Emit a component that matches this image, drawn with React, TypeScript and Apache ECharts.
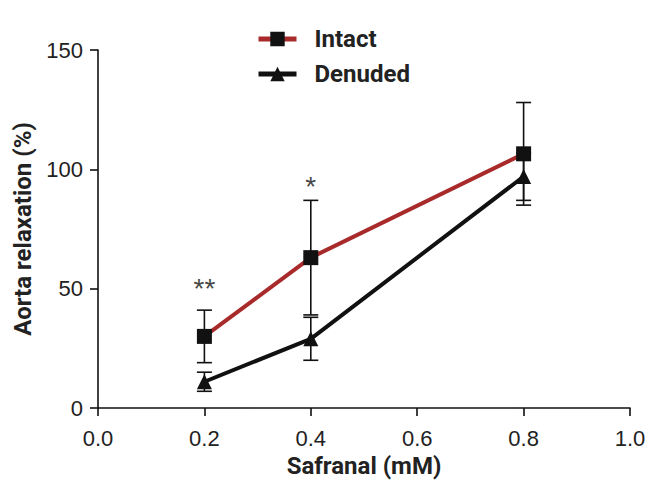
import React, { useEffect, useRef } from "react";
import * as echarts from "echarts";

const doses = [0.2, 0.4, 0.8];
const intactMean = [30, 63, 106.5];
const intactErr = [11, 24, 21.5];
const denudedMean = [11, 29, 97];
const denudedErr = [4, 9, 10];
const xTicks = [0, 0.2, 0.4, 0.6, 0.8, 1.0];
const significance: [number, number, string][] = [
  [0.2, 50, "**"],
  [0.4, 93, "*"],
];

const RED = "#a82a2a";
const BLACK = "#111111";
const TITLE_FONT = "Roboto, 'Liberation Sans', sans-serif";
const TICK_FONT = "'Liberation Sans', Arial, sans-serif";

function errData(mean: number[], err: number[]) {
  return doses.map((d, i) => [d, mean[i] - err[i], mean[i] + err[i]]);
}

function errSeries(name: string, mean: number[], err: number[]) {
  return {
    type: "custom",
    name: name + "-err",
    z: 1,
    silent: true,
    data: errData(mean, err),
    encode: { x: 0, y: [1, 2] },
    renderItem: (params: any, api: any) => {
      const x = api.value(0);
      const lo = api.coord([x, api.value(1)]);
      const hi = api.coord([x, api.value(2)]);
      const hw = 7.5;
      const style = { stroke: BLACK, lineWidth: 1.6 };
      return {
        type: "group",
        children: [
          { type: "line", shape: { x1: lo[0], y1: lo[1], x2: hi[0], y2: hi[1] }, style },
          { type: "line", shape: { x1: lo[0] - hw, y1: lo[1], x2: lo[0] + hw, y2: lo[1] }, style },
          { type: "line", shape: { x1: hi[0] - hw, y1: hi[1], x2: hi[0] + hw, y2: hi[1] }, style },
        ],
      };
    },
  };
}

export default function App() {
  const ref = useRef<HTMLDivElement>(null);
  useEffect(() => {
    const chart = echarts.init(ref.current!, undefined, { renderer: "svg" });
    chart.setOption({
      animation: false,
      backgroundColor: "#ffffff",
      grid: { left: 98, right: 31, top: 50, bottom: 89 },
      legend: {
        orient: "vertical",
        left: 251,
        top: 22,
        itemWidth: 38,
        itemHeight: 18,
        itemGap: 11,
        data: ["Intact", "Denuded"],
        lineStyle: { width: 5 },
        textStyle: { fontFamily: TITLE_FONT, fontWeight: "bold", fontSize: 24, color: "#222", padding: [0, 0, 0, 13] },
      },
      xAxis: {
        type: "value",
        min: 0,
        max: 1,
        interval: 0.2,
        name: "Safranal (mM)",
        nameLocation: "middle",
        nameGap: 46,
        nameTextStyle: { fontFamily: TITLE_FONT, fontWeight: "bold", fontSize: 24, color: "#222" },
        axisLine: { lineStyle: { color: BLACK, width: 1.6 } },
        axisTick: { length: 8, lineStyle: { color: BLACK, width: 1.6 } },
        axisLabel: {
          margin: 19,
          fontFamily: TICK_FONT,
          fontSize: 22,
          color: "#222",
          formatter: (v: number) => (xTicks.some((t) => Math.abs(t - v) < 1e-9) ? v.toFixed(1) : ""),
        },
        splitLine: { show: false },
      },
      yAxis: {
        type: "value",
        min: 0,
        max: 150,
        interval: 50,
        name: "Aorta relaxation (%)",
        nameLocation: "middle",
        nameGap: 63,
        nameTextStyle: { fontFamily: TITLE_FONT, fontWeight: "bold", fontSize: 24, color: "#222" },
        axisLine: { show: true, lineStyle: { color: BLACK, width: 1.6 } },
        axisTick: { show: true, length: 8, lineStyle: { color: BLACK, width: 1.6 } },
        axisLabel: { margin: 15, fontFamily: TICK_FONT, fontSize: 22, color: "#222" },
        splitLine: { show: false },
      },
      series: [
        errSeries("Intact", intactMean, intactErr),
        errSeries("Denuded", denudedMean, denudedErr),
        {
          type: "line",
          name: "Intact",
          z: 3,
          data: doses.map((d, i) => [d, intactMean[i]]),
          symbol: "rect",
          symbolSize: 15,
          lineStyle: { color: RED, width: 4 },
          itemStyle: { color: BLACK },
        },
        {
          type: "line",
          name: "Denuded",
          z: 3,
          data: doses.map((d, i) => [d, denudedMean[i]]),
          symbol: "triangle",
          symbolSize: 15,
          lineStyle: { color: BLACK, width: 4 },
          itemStyle: { color: BLACK },
        },
        {
          type: "scatter",
          name: "sig",
          silent: true,
          symbolSize: 0,
          data: significance.map((s) => ({ value: [s[0], s[1]], label: { formatter: s[2] } })),
          label: {
            show: true,
            position: "inside",
            fontFamily: TICK_FONT,
            fontSize: 28,
            color: "#111",
          },
        },
      ],
    });
    return () => chart.dispose();
  }, []);
  return (
    <div
      ref={ref}
      style={{ position: "fixed", left: 0, top: 0, width: 661, height: 497 }}
    />
  );
}
